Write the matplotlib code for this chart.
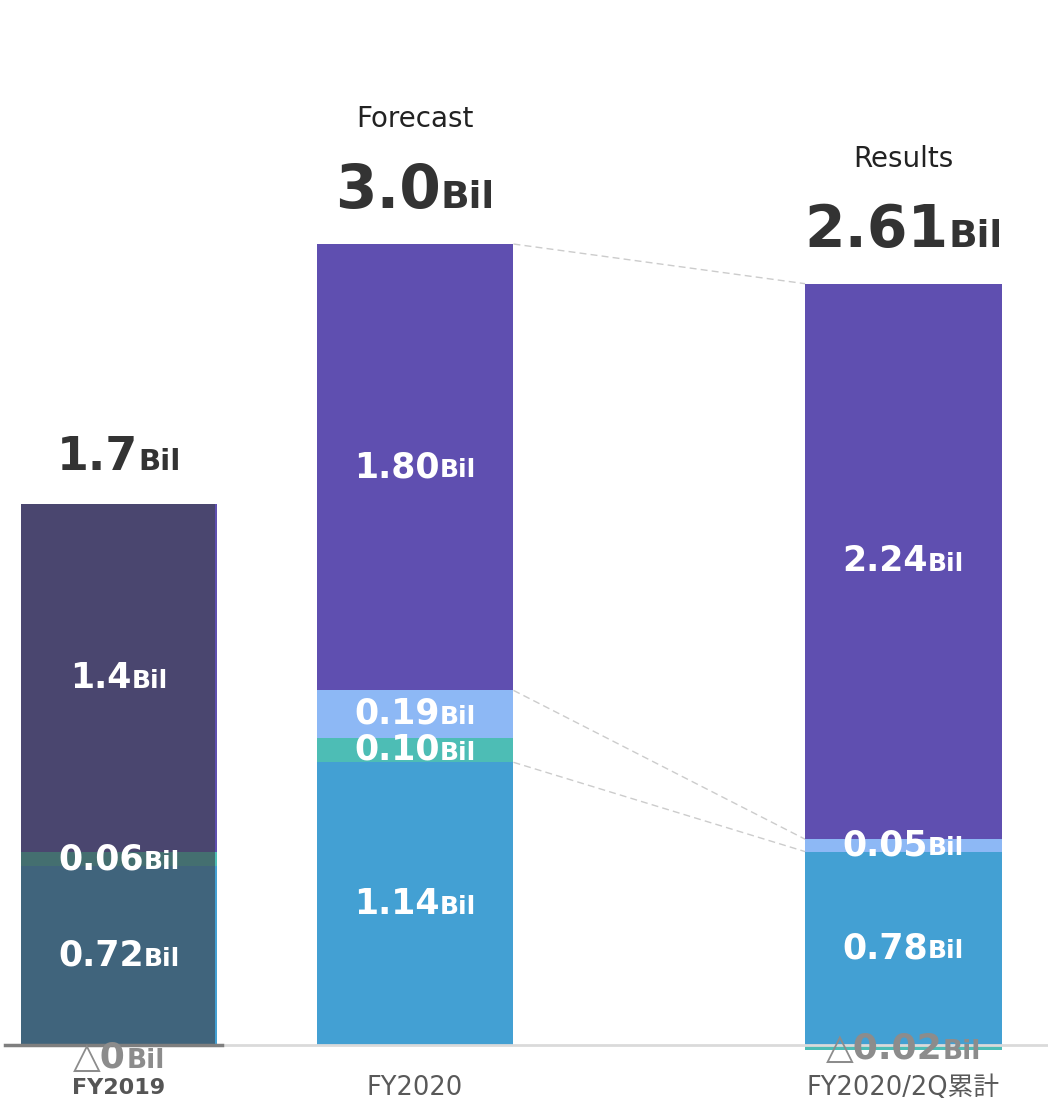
import matplotlib
matplotlib.use("Agg")
import matplotlib.pyplot as plt
from matplotlib.offsetbox import TextArea, HPacker, AnnotationBbox
from matplotlib.patches import Rectangle

plt.rcParams["font.family"] = ["DejaVu Sans", "Noto Sans CJK JP"]

# Values in billions, stacked bottom to top
categories = ["FY2019", "FY2020", "FY2020/2Q累計"]
seg_blue = [0.72, 1.14, 0.78]
seg_teal = [0.06, 0.10, 0.0]
seg_light = [0.0, 0.19, 0.05]
seg_purple = [1.4, 1.80, 2.24]
seg_minus = [0.0, None, -0.02]
totals = ["1.7", "3.0", "2.61"]
headers = ["", "Forecast", "Results"]

c_blue = "#43A0D3"
c_teal = "#4DBDB5"
c_light = "#8DB8F5"
c_purple = "#5F4FB0"
c_text = "#333333"

x = [0, 1, 2.65]
w = 0.665

fig = plt.figure(figsize=(10.48, 11.09), dpi=100)
ax = fig.add_axes([0, 0, 1, 1])
ax.set_xlim(-0.402, 3.138)
ax.set_ylim(-0.258, 4.214)
ax.axis("off")

bottoms_teal = seg_blue
bottoms_light = [b + t for b, t in zip(seg_blue, seg_teal)]
bottoms_purple = [b + l for b, l in zip(bottoms_light, seg_light)]
tops = [b + p for b, p in zip(bottoms_purple, seg_purple)]
minus_vals = [m if m is not None else 0 for m in seg_minus]

ax.bar(x, seg_blue, w, color=c_blue, zorder=2)
ax.bar(x, seg_teal, w, bottom=bottoms_teal, color=c_teal, zorder=2)
ax.bar(x, seg_light, w, bottom=bottoms_light, color=c_light, zorder=2)
ax.bar(x, seg_purple, w, bottom=bottoms_purple, color=c_purple, zorder=2)
ax.bar(x, minus_vals, w, color=c_teal, zorder=2)

# FY2019 is shown dimmed as last year's figure
ax.add_patch(Rectangle((x[0] - w / 2, 0), w - 0.007, tops[0],
                       facecolor="#3F4249", alpha=0.63, lw=0, zorder=3))

# baseline
ax.plot([-0.36, 3.2], [0, 0], color="#DADADA", lw=2, zorder=4)
ax.plot([-0.385, 0.348], [0, 0], color="#7F7F7F", lw=2.5, zorder=4)

# dashed connectors between the forecast and results bars
for ya, yb in [(tops[1], tops[2]), (bottoms_purple[1], bottoms_purple[2]),
               (bottoms_teal[1], bottoms_light[2])]:
    ax.plot([x[1] + w / 2, x[2] - w / 2], [ya, yb], color="#CCCCCC",
            lw=1, ls=(0, (5, 3)), zorder=1)


def value_label(xv, yv, num, big, small, color, dy=0, zorder=6):
    props = dict(fontsize=big, fontweight="bold", color=color)
    sprops = dict(fontsize=small, fontweight="bold", color=color)
    box = HPacker(children=[TextArea(num, textprops=props),
                            TextArea("Bil", textprops=sprops)],
                  align="baseline", pad=0, sep=0)
    ab = AnnotationBbox(box, (xv, yv), xybox=(0, dy), boxcoords="offset points",
                        frameon=False, box_alignment=(0.5, 0.5), zorder=zorder)
    ax.add_artist(ab)


# segment labels
for i in range(3):
    segs = [(seg_blue[i], 0), (seg_teal[i], bottoms_teal[i]),
            (seg_light[i], bottoms_light[i]), (seg_purple[i], bottoms_purple[i])]
    for v, b in segs:
        if v > 0:
            fmt = "{:.1f}" if i == 0 and v >= 1 else "{:.2f}"
            value_label(x[i], b + v / 2, fmt.format(v), 25, 18, "white")

# negative / zero items below the baseline
neg_dy = [-9, None, -1]
for i, m in enumerate(seg_minus):
    if m is None:
        continue
    txt = "△" + ("0" if m == 0 else "{:.2f}".format(abs(m)))
    value_label(x[i], m / 2, txt, 26, 19, "#8C8C8C", dy=neg_dy[i])

# totals above bars
big_sizes = [(33, 21), (43, 27), (42, 27)]
for i, t in enumerate(totals):
    value_label(x[i], tops[i], t, big_sizes[i][0], big_sizes[i][1], c_text,
                dy=34 if i == 0 else 38)
    if headers[i]:
        ax.annotate(headers[i], (x[i], tops[i]), xytext=(0, 90),
                    textcoords="offset points", ha="center", va="center",
                    fontsize=20, color="#222222")

# category labels
cat_style = [dict(fontweight="bold", color="#555555", fontsize=16),
             dict(color="#595959", fontsize=18.5),
             dict(color="#595959", fontsize=18.5)]
for i, c in enumerate(categories):
    ax.text(x[i], -0.175, c, ha="center", va="center", zorder=6, **cat_style[i])

fig.savefig("out.png", dpi=100)
